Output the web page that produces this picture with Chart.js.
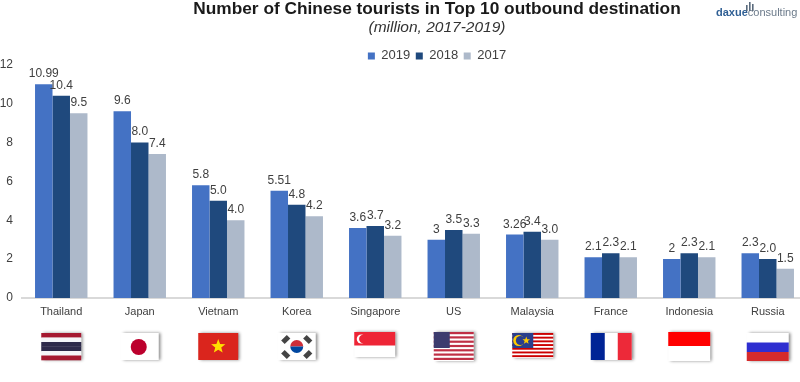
<!DOCTYPE html>
<html><head><meta charset="utf-8">
<style>html,body{margin:0;padding:0;background:#fff;overflow:hidden}
#wrap{position:relative;width:800px;height:382px;overflow:hidden}
canvas{display:block}</style>
<script src="https://cdn.jsdelivr.net/npm/chart.js@4/dist/chart.umd.min.js"></script>
</head><body><div id="wrap"><canvas id="c" width="874" height="382" style="width:874px;height:382px"></canvas></div>
<script>
const categories=["Thailand","Japan","Vietnam","Korea","Singapore","US","Malaysia","France","Indonesia","Russia"];
const v2019=[10.99,9.6,5.8,5.51,3.6,3,3.26,2.1,2,2.3];
const v2018=[10.4,8.0,5.0,4.8,3.7,3.5,3.4,2.3,2.3,2.0];
const v2017=[9.5,7.4,4.0,4.2,3.2,3.3,3.0,2.1,2.1,1.5];
const FONT="'Liberation Sans', Arial, sans-serif";

function rect(c,x,y,w,h,col){c.fillStyle=col;c.fillRect(x,y,w,h);}
function stripes(c,x,y,w,h,cols){const s=h/cols.length;cols.forEach((k,i)=>rect(c,x,y+i*s,w,s+0.3,k));}
function disc(c,x,y,r,col){c.fillStyle=col;c.beginPath();c.arc(x,y,r,0,Math.PI*2);c.fill();}
function star(c,x,y,r,col){c.fillStyle=col;c.beginPath();for(let i=0;i<10;i++){const a=-Math.PI/2+i*Math.PI/5,q=i%2?r*0.42:r;c.lineTo(x+q*Math.cos(a),y+q*Math.sin(a));}c.closePath();c.fill();}
function base(c,x,y,w,h,col){c.save();c.shadowColor='rgba(0,0,0,.45)';c.shadowBlur=3;c.shadowOffsetX=2;c.shadowOffsetY=0;rect(c,x,y,w,h,col);c.restore();}
const flags=[
 (c,m)=>{const x=m-20,y=333,w=40,h=27;base(c,x,y,w,h,'#fff');stripes(c,x,y,w,h,['#A51931','#F4F5F8','#2D2A4A','#2D2A4A','#F4F5F8','#A51931']);},
 (c,m)=>{const x=m-19,y=333,w=38,h=27;base(c,x,y,w,h,'#fff');disc(c,m-1,347,8,'#BC002D');},
 (c,m)=>{const x=m-20,y=333,w=40,h=27;base(c,x,y,w,h,'#DA251D');star(c,m,346.5,7.5,'#FFE000');},
 (c,m)=>{const x=m-19,y=333,w=38,h=27;base(c,x,y,w,h,'#fff');
   c.fillStyle='#CD2E3A';c.beginPath();c.arc(m,346.5,6.5,Math.PI,0);c.fill();
   c.fillStyle='#0047A0';c.beginPath();c.arc(m,346.5,6.5,0,Math.PI);c.fill();
   c.fillStyle='#444';[[-11,-7],[11,-7],[-11,8],[11,8]].forEach(p=>{c.save();c.translate(m+p[0],346.5+p[1]);c.rotate((p[0]*p[1]>0?-1:1)*Math.PI/4);c.fillRect(-4,-2.5,8,5);c.restore();});},
 (c,m)=>{const x=m-21,y=332,w=41,h=25;base(c,x,y,w,h,'#fff');rect(c,x,y,w,13.5,'#EE2536');disc(c,x+7,y+7,4.5,'#fff');disc(c,x+9,y+7,4.2,'#EE2536');},
 (c,m)=>{const x=m-20,y=332,w=40,h=29;base(c,x,y,w,h,'#fff');for(let i=0;i<7;i++)rect(c,x,y+i*4.3,w,2.2,'#BF2F45');rect(c,x,y,16,16,'#3C3B6E');},
 (c,m)=>{const x=m-20,y=333,w=41,h=25;base(c,x,y,w,h,'#fff');for(let i=0;i<7;i++)rect(c,x,y+i*3.7,w,1.9,'#CC0001');rect(c,x,y,21,15,'#2A3F8C');disc(c,x+6.5,y+7.5,5.5,'#FFCC00');disc(c,x+8.2,y+7.5,4.6,'#2A3F8C');star(c,x+14,y+7.5,4,'#FFCC00');},
 (c,m)=>{const x=m-20,y=333,w=41,h=27;base(c,x,y,w,h,'#fff');rect(c,x,y,14,h,'#002395');rect(c,x+27,y,14,h,'#ED2939');},
 (c,m)=>{const x=m-21,y=332,w=42,h=29;base(c,x,y,w,h,'#fff');rect(c,x,y,w,14,'#FF0000');},
 (c,m)=>{const x=m-21,y=333,w=42,h=28;base(c,x,y,w,h,'#fff');rect(c,x,y+9.5,w,9.5,'#2E2ED0');rect(c,x,y+19,w,9,'#D52B2B');}
];

const extras={id:'extras',
 afterDatasetsDraw(chart){
  const c=chart.ctx;c.save();
  c.font="12px "+FONT;c.fillStyle='#404040';c.textAlign='center';c.textBaseline='alphabetic';
  chart.data.datasets.forEach((d,i)=>{
    chart.getDatasetMeta(i).data.forEach((b,j)=>{
      const t=i===0?String(d.data[j]):d.data[j].toFixed(1);
      c.fillText(t,b.x,b.y-7);
    });
  });
  c.restore();
 },
 afterDraw(chart){
  const c=chart.ctx,x=chart.scales.x;
  flags.forEach((f,i)=>{c.save();f(c,x.getPixelForTick(i));c.restore();});
  c.save();c.textBaseline='alphabetic';c.textAlign='left';
  c.font="bold 11px "+FONT;c.fillStyle='#2F5F94';c.fillText('daxue',716,16);
  const w=c.measureText('daxue').width;
  c.font="11px "+FONT;c.fillStyle='#6B7A8A';c.fillText('consulting',716+w,16);
  [[746,5,3],[749,2,6],[752,4,4]].forEach(p=>rect(c,p[0],p[1],1.6,p[2]+3,'#5A6B7D'));
  c.restore();
 },
 beforeLayout(chart){
  const l=chart.legend;
  if(l&&!l._fitPatched){const o=l.fit;l.fit=function(){o.call(this);this.height-=7.8;};l._fitPatched=true;}
 }
};

new Chart(document.getElementById('c'),{
 type:'bar',
 data:{labels:categories,datasets:[
  {label:'2019',data:v2019,backgroundColor:'#4472C4'},
  {label:'2018',data:v2018,backgroundColor:'#1F497D'},
  {label:'2017',data:v2017,backgroundColor:'#ADB9CA'}
 ]},
 options:{
  responsive:false,animation:false,
  layout:{padding:0},
  datasets:{bar:{categoryPercentage:0.668,barPercentage:1}},
  scales:{
   x:{grid:{display:false,drawTicks:false},border:{color:'#D9D9D9',width:2},
      ticks:{color:'#404040',font:{family:FONT,size:11},padding:7,maxRotation:0,autoSkip:false},
      afterFit:s=>{s.height=84;}},
   y:{min:0,max:12,grid:{display:false,drawTicks:false},border:{display:false},
      ticks:{stepSize:2,color:'#404040',font:{family:FONT,size:12},padding:9},
      afterFit:s=>{s.width=22;}},
   pad:{position:'right',display:true,grid:{display:false,drawTicks:false},border:{display:false},ticks:{display:false},afterFit:s=>{s.width=67;}}
  },
  plugins:{
   title:{display:true,text:'Number of Chinese tourists in Top 10 outbound destination',color:'#1a1a1a',font:{family:FONT,size:17.3,weight:'bold',lineHeight:1.1},padding:{top:0,bottom:0}},
   subtitle:{display:true,text:'(million, 2017-2019)',color:'#333',font:{family:FONT,size:15.5,style:'italic',lineHeight:1.1},padding:{top:0,bottom:7.8}},
   legend:{display:true,position:'top',labels:{boxWidth:7,boxHeight:7,color:'#404040',font:{family:FONT,size:13},padding:5.5}},
   tooltip:{enabled:false}
  }
 },
 plugins:[extras]
});
</script></body></html>
